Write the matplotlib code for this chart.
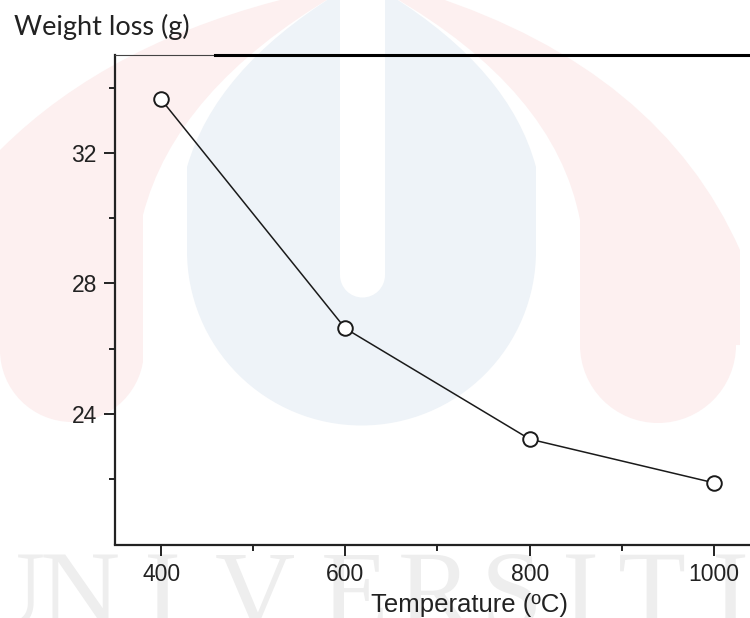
import numpy as np
import matplotlib
matplotlib.use('Agg')
import matplotlib.pyplot as plt
from matplotlib.patches import PathPatch, Circle, Rectangle
from matplotlib.path import Path
from matplotlib.lines import Line2D
from matplotlib.transforms import Affine2D

# data
temperature = [400, 600, 800, 1000]
weight_loss = [33.64, 26.62, 23.23, 21.89]
x_major = [400, 600, 800, 1000]
x_minor = [500, 700, 900]
y_major = [24, 28, 32]
y_minor = [22, 26, 30, 34]

W, H = 750, 618
fig = plt.figure(figsize=(W / 100, H / 100), dpi=100)

# pixel coords (origin top-left) -> figure
pix = Affine2D().scale(1 / W, -1 / H).translate(0, 1) + fig.transFigure

M, L, C, Z = Path.MOVETO, Path.LINETO, Path.CURVE3, Path.CLOSEPOLY


def shape(verts, codes, color):
    return PathPatch(Path(verts, codes), facecolor=color)


# faint logo watermark behind the chart
pink = '#fdf0f0'
blue = '#eef3f8'
bg = []
bg.append(shape([(0, 350), (0, 150), (110, 40), (300, -5), (430, -5), (660, 70), (740, 250),
                 (740, 345), (0, 350)],
                [M, L, C, C, L, C, C, L, Z], pink))
bg.append(Circle((72, 350), 72, facecolor=pink))
bg.append(Circle((658, 345), 78, facecolor=pink))
bg.append(shape([(143, 700), (143, 215), (175, 90), (335, -5), (390, -5), (555, 90), (580, 220),
                 (580, 700), (143, 700)],
                [M, L, C, C, L, C, C, L, Z], 'white'))
bg.append(shape([(187, 252), (187, 167), (215, 70), (335, -5), (390, -5), (510, 70), (536, 167),
                 (536, 252), (187, 252)],
                [M, L, C, C, L, C, C, L, Z], blue))
bg.append(Circle((361.5, 251), 174.5, facecolor=blue))
bg.append(Rectangle((340, -5), 45, 280, facecolor='white'))
bg.append(Circle((362.5, 275), 22.5, facecolor='white'))
for p in bg:
    p.set_edgecolor('none')
    p.set_transform(pix)
    p.set_zorder(-10)
    fig.add_artist(p)

letters = ['U', 'N', 'I', 'V', 'E', 'R', 'S', 'I', 'T', 'I']
centers = [5, 80, 162, 255, 355, 435, 512, 580, 652, 730]
for ch, cx in zip(letters, centers):
    fig.text(cx, 627, ch, transform=pix, fontsize=80, family='Liberation Serif',
             color='#eeeeee', ha='center', va='baseline', zorder=-9)

# chart
ax = fig.add_axes([115 / W, 1 - 544.5 / H, 645 / W, 489.5 / H])
ax.set_facecolor('none')
ax.plot(temperature, weight_loss, color='#1a1a1a', lw=1.1,
        marker='o', ms=10.5, mfc='white', mec='#1a1a1a', mew=1.4)

ax.set_xlim(350, 1050)
ax.set_ylim(20, 35)
ax.set_xticks(x_major)
ax.set_xticks(x_minor, minor=True)
ax.set_yticks(y_major)
ax.set_yticks(y_minor, minor=True)

for s in ['left', 'bottom']:
    ax.spines[s].set_linewidth(1.6)
    ax.spines[s].set_color('#222222')
ax.spines['top'].set_linewidth(0.8)
ax.spines['top'].set_color('#444444')
ax.spines['right'].set_visible(False)

ax.tick_params(which='major', direction='out', length=8, width=1.4, color='#222222',
               labelsize=16.5, labelcolor='#222222', pad=5)
ax.tick_params(which='minor', direction='out', length=4.5, width=1.4, color='#222222')
for lab in ax.get_xticklabels() + ax.get_yticklabels():
    lab.set_family('Liberation Sans')

ax.set_xlabel('Temperature (ºC)', fontsize=18.5, family='Liberation Sans', color='#222222')
ax.xaxis.set_label_coords((470 - 115) / 645, -0.10)

# heavy rule across the top
fig.add_artist(Line2D([215, 752], [55, 55], transform=pix, color='black', lw=2.2))

fig.text(14, 35, 'Weight loss (g)', transform=pix, fontsize=19.5, family='Lato',
         color='#222222', ha='left', va='baseline')

fig.savefig('out.png', dpi=100)
